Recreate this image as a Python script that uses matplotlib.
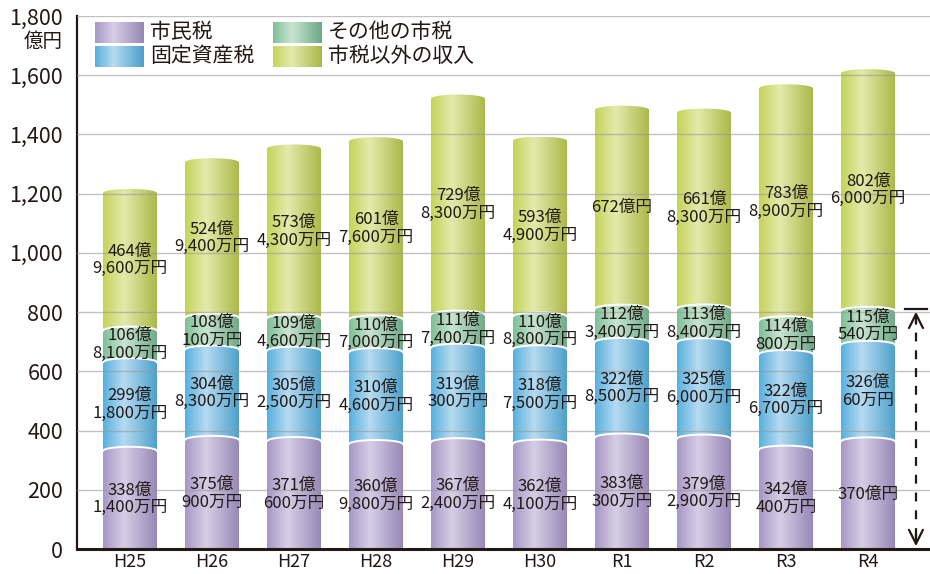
import numpy as np
import matplotlib
matplotlib.use("Agg")
import matplotlib.pyplot as plt
from matplotlib.colors import LinearSegmentedColormap
from matplotlib.patches import PathPatch
from matplotlib.path import Path

plt.rcParams['font.family'] = ['Noto Sans CJK JP', 'DejaVu Sans']

# ---- data (units: 万円) ---------------------------------------------------
years = ["H25", "H26", "H27", "H28", "H29", "H30", "R1", "R2", "R3", "R4"]
shimin = [3381400, 3750900, 3710600, 3609800, 3672400, 3624100, 3830300, 3792900, 3420400, 3700000]
kotei = [2991800, 3048300, 3052500, 3104600, 3190300, 3187500, 3228500, 3256000, 3226700, 3260060]
sonota = [1068100, 1080100, 1094600, 1107000, 1117400, 1108800, 1123400, 1138400, 1140800, 1150540]
igai = [4649600, 5249400, 5734300, 6017600, 7298300, 5934900, 6720000, 6618300, 7838900, 8026000]
names = ["市民税", "固定資産税", "その他の市税", "市税以外の収入"]
yticks = [0, 200, 400, 600, 800, 1000, 1200, 1400, 1600, 1800]

# gradient stops (left, highlight, right) per series
grads = [["#a797c5", "#d6cee6", "#9686b5"],
         ["#58b0de", "#b6dbf1", "#4a9fcb"],
         ["#7dbf97", "#c8e5d1", "#6ca886"],
         ["#c4d45a", "#e3eaab", "#a9b846"]]
TXT = "#231815"


def cmap_of(cols):
    return LinearSegmentedColormap.from_list("g", list(zip([0, 0.38, 1], cols)))


def label(v):
    oku, man = divmod(v, 10000)
    return f"{oku}億円" if man == 0 else f"{oku}億\n{man:,}万円"


fig = plt.figure(figsize=(9.3, 5.74), dpi=100)
ax = fig.add_axes([77 / 930, 1 - 549 / 574, 1 - 77 / 930, (549 - 16) / 574])

W = 0.66      # bar width
bump = 14     # height of the elliptic arcs, 億円
u = np.linspace(-1, 1, 60)
arc = np.sqrt(1 - u ** 2) * bump - bump / 2
grad = np.linspace(0, 1, 256)[None, :]
series = [shimin, kotei, sonota, igai]

for i in range(len(years)):
    xs = i + u * W / 2
    base = 0.0
    prev = np.zeros_like(u)
    for k, s in enumerate(series):
        v = s[i] / 1e4
        top = base + v + arc
        verts = np.concatenate([np.column_stack([xs, prev]),
                                np.column_stack([xs[::-1], top[::-1]])])
        path = Path(np.vstack([verts, verts[:1]]), closed=True)
        patch = PathPatch(path, transform=ax.transData, facecolor="none", edgecolor="none")
        ax.add_patch(patch)
        im = ax.imshow(grad, cmap=cmap_of(grads[k]), aspect="auto", origin="lower",
                       extent=[i - W / 2, i + W / 2, prev.min(), top.max()], zorder=2)
        im.set_clip_path(patch)
        if k < 3:
            ax.plot(xs, top, color="white", lw=1.4, zorder=3)
        ax.text(i, base + v / 2, label(s[i]), ha="center", va="center",
                fontsize=12, color=TXT, linespacing=1.05, zorder=5)
        prev = top
        base += v

# gridlines over the bars
for t in yticks[1:]:
    ax.axhline(t, color="#9a9a9a", lw=1.0, alpha=0.6, zorder=4)

# range arrow at the right (tax total of the latest year)
xa = len(years) - 1 + 0.585
tax = (shimin[-1] + kotei[-1] + sonota[-1]) / 1e4
ax.plot([xa, xa], [40, tax - 40], color=TXT, lw=1.6, ls=(0, (4, 4)), zorder=5)
ax.plot([xa - 0.13, xa + 0.13], [tax, tax], color=TXT, lw=1.6, zorder=5)
head = dict(arrowstyle="->,head_length=1.0,head_width=0.5", lw=1.6, color=TXT)
ax.annotate("", xy=(xa, tax), xytext=(xa, tax - 60), arrowprops=head)
ax.annotate("", xy=(xa, 0), xytext=(xa, 60), arrowprops=head)

ax.set_xlim(-0.646, len(years) - 1 + 0.756)
ax.set_ylim(0, 1800)
ax.set_yticks(yticks)
ax.set_yticklabels([f"{t:,}" for t in yticks])
ax.set_xticks(range(len(years)))
ax.set_xticklabels(years)
ax.tick_params(axis="y", length=0, pad=10, labelsize=15.5, labelcolor=TXT)
ax.tick_params(axis="x", length=0, pad=3, labelsize=13, labelcolor=TXT)
for sp in ["top", "right"]:
    ax.spines[sp].set_visible(False)
ax.spines["left"].set_linewidth(1.6)
ax.spines["left"].set_color(TXT)
ax.spines["bottom"].set_linewidth(2.2)
ax.spines["bottom"].set_color(TXT)
ax.spines["bottom"].set_zorder(6)
ax.text(-0.646 - 0.17, 1800 - 52, "億円", ha="right", va="top",
        fontsize=14, color=TXT)

# legend with gradient swatches
pos = [(95, 22), (95, 46), (273, 22), (273, 46)]
for k, (px, py) in enumerate(pos):
    lax = fig.add_axes([px / 930, 1 - (py + 21) / 574, 48 / 930, 21 / 574])
    lax.imshow(grad, cmap=cmap_of(grads[k]), aspect="auto")
    lax.axis("off")
    fig.text((px + 55) / 930, 1 - (py + 10.5) / 574, names[k], ha="left", va="center",
             fontsize=15, color=TXT)

fig.savefig("out.png", dpi=100)
